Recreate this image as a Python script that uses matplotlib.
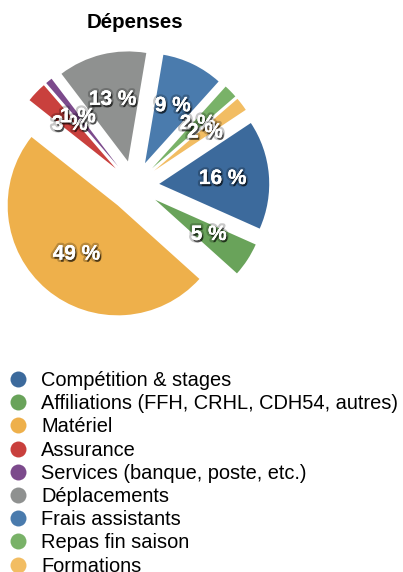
import matplotlib
matplotlib.use("Agg")
import matplotlib.pyplot as plt
import matplotlib.patheffects as pe
from matplotlib.lines import Line2D

plt.rcParams['font.family'] = ['Liberation Sans', 'DejaVu Sans']

# postes de dépenses (%)
categories = ["Compétition & stages", "Affiliations (FFH, CRHL, CDH54, autres)",
              "Matériel", "Assurance", "Services (banque, poste, etc.)",
              "Déplacements", "Frais assistants", "Repas fin saison", "Formations"]
values = [16, 5, 49, 3, 1, 13, 9, 2, 2]
colors = ["#3c6a9c", "#69a35a", "#eeb04b", "#c9403d", "#7c4a8c",
          "#8f9190", "#4a7bad", "#79b268", "#f2bd63"]

W, H = 403, 572
fig = plt.figure(figsize=(W / 100, H / 100), dpi=100)

# pie geometry in pixels
cx, cy, r = 134, 186, 110
half = 1.5 * r
ax = fig.add_axes([(cx - half) / W, (H - cy - half) / H, 2 * half / W, 2 * half / H])

wedges, texts, autotexts = ax.pie(values, colors=colors, startangle=33.6,
                                  counterclock=False, explode=[0.23] * len(values),
                                  autopct='%d %%', pctdistance=0.58, radius=1,
                                  wedgeprops=dict(linewidth=0), frame=True)
ax.set_xlim(-1.5, 1.5)
ax.set_ylim(-1.5, 1.5)
ax.set_aspect('equal')
ax.axis('off')

shadow = [pe.withStroke(linewidth=3.5, foreground=(0, 0, 0, 0.22)),
          pe.withSimplePatchShadow(offset=(1, -1.5), shadow_rgbFace='black', alpha=0.6),
          pe.Normal()]
for t in autotexts:
    t.set_color('white')
    t.set_fontsize(15)
    t.set_fontweight('bold')
    t.set_path_effects(shadow)

fig.text(135 / W, 1 - 23 / H, "Dépenses", ha='center', va='center',
         fontsize=14.8, fontweight='bold')

handles = [Line2D([], [], linestyle='none', marker='o', markersize=11.5,
                  markerfacecolor=c, markeredgewidth=0) for c in colors]
fig.legend(handles, categories, loc='upper left', bbox_to_anchor=(3 / W, 1 - 365 / H),
           frameon=False, fontsize=14.4, handlelength=0.9, handletextpad=0.7,
           labelspacing=0.21, borderaxespad=0, borderpad=0.3)

fig.savefig("out.png", dpi=100)
